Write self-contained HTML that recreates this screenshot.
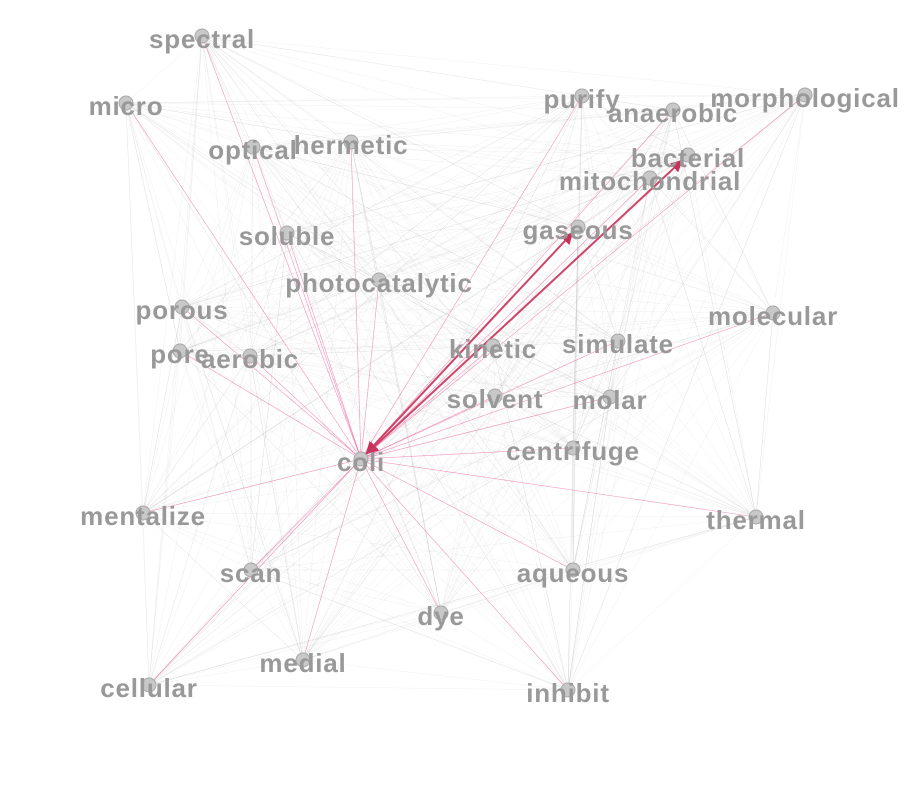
<!DOCTYPE html>
<html><head><meta charset="utf-8"><style>
html,body{margin:0;padding:0;background:#fff;}
svg{display:block;}
text{font-family:"Liberation Sans",sans-serif;font-weight:bold;font-size:26px;letter-spacing:0.8px;fill:#999;}
</style></head><body>
<svg id="chart" width="916" height="785" viewBox="0 0 916 785" xmlns="http://www.w3.org/2000/svg">
<defs>
<marker id="arr" viewBox="0 0 10 10" refX="10" refY="5" markerWidth="6" markerHeight="6" orient="auto-start-reverse"><path d="M0,0 L10,5 L0,10 z" fill="#c8325a"/></marker>
</defs>
<g id="edges"></g>
<g id="hot"></g>
<g id="nodes"></g>
</svg>
<script>
const nodeNames=["spectral","micro","purify","anaerobic","morphological","optical","hermetic","bacterial","mitochondrial","soluble","gaseous","photocatalytic","porous","molecular","kinetic","simulate","pore","aerobic","solvent","molar","centrifuge","coli","mentalize","thermal","scan","aqueous","dye","medial","cellular","inhibit"];
const nodeX=[202,126,582,673,805,253,351,688,650,287,578,379,182,773,493,618,180,250,495,610,573,361,143,756,251,573,441,303,149,568];
const nodeY=[36,103,96,110,95,147,142,155,178,233,227,280,307,313,346,341,351,356,396,397,448,459,513,517,570,570,613,660,685,690];
const hub="coli";
const strongLinks=["gaseous","bacterial"];
const NS="http://www.w3.org/2000/svg";
const eg=document.getElementById('edges'),hg=document.getElementById('hot'),ng=document.getElementById('nodes');
const hi=nodeNames.indexOf(hub);
for(let i=0;i<nodeNames.length;i++)for(let j=i+1;j<nodeNames.length;j++){
  if(i===hi||j===hi)continue;
  const l=document.createElementNS(NS,'line');
  
  
  l.setAttribute('x1',nodeX[i]);l.setAttribute('y1',nodeY[i]);l.setAttribute('x2',nodeX[j]);l.setAttribute('y2',nodeY[j]);
  l.setAttribute('stroke','#aaa');l.setAttribute('stroke-width','0.5');l.setAttribute('stroke-opacity',((i*7+j*3)%5===0)?'0.4':'0.18');
  eg.appendChild(l);
}
for(let i=0;i<nodeNames.length;i++){
  if(i===hi)continue;
  const strong=strongLinks.includes(nodeNames[i]);
  const l=document.createElementNS(NS,'line');
  
  
  const dx=nodeX[i]-nodeX[hi],dy=nodeY[i]-nodeY[hi],d=Math.hypot(dx,dy);
  const s=strong?7/d:0;
  l.setAttribute('x1',nodeX[hi]+dx*s);l.setAttribute('y1',nodeY[hi]+dy*s);l.setAttribute('x2',nodeX[i]-dx*s);l.setAttribute('y2',nodeY[i]-dy*s);
  l.setAttribute('stroke',strong?'#c8325a':'#e8408a');
  l.setAttribute('stroke-width',strong?'2':'0.6');
  l.setAttribute('stroke-opacity',strong?'0.9':'0.55');
  if(strong){l.setAttribute('marker-end','url(#arr)');l.setAttribute('marker-start','url(#arr)');}
  hg.appendChild(l);
}
for(let i=0;i<nodeNames.length;i++){
  const g=document.createElementNS(NS,'g');
  
  
  const c=document.createElementNS(NS,'circle');
  c.setAttribute('cx',nodeX[i]);c.setAttribute('cy',nodeY[i]);c.setAttribute('r','7');
  c.setAttribute('fill','#c8c8c8');c.setAttribute('stroke','#a8a8a8');c.setAttribute('stroke-width','1');
  g.appendChild(c);
  const t=document.createElementNS(NS,'text');
  
  t.setAttribute('x',nodeX[i]);t.setAttribute('y',nodeY[i]+12);t.setAttribute('text-anchor','middle');
  t.textContent=nodeNames[i];
  g.appendChild(t);
  ng.appendChild(g);
}
</script>
</body></html>
